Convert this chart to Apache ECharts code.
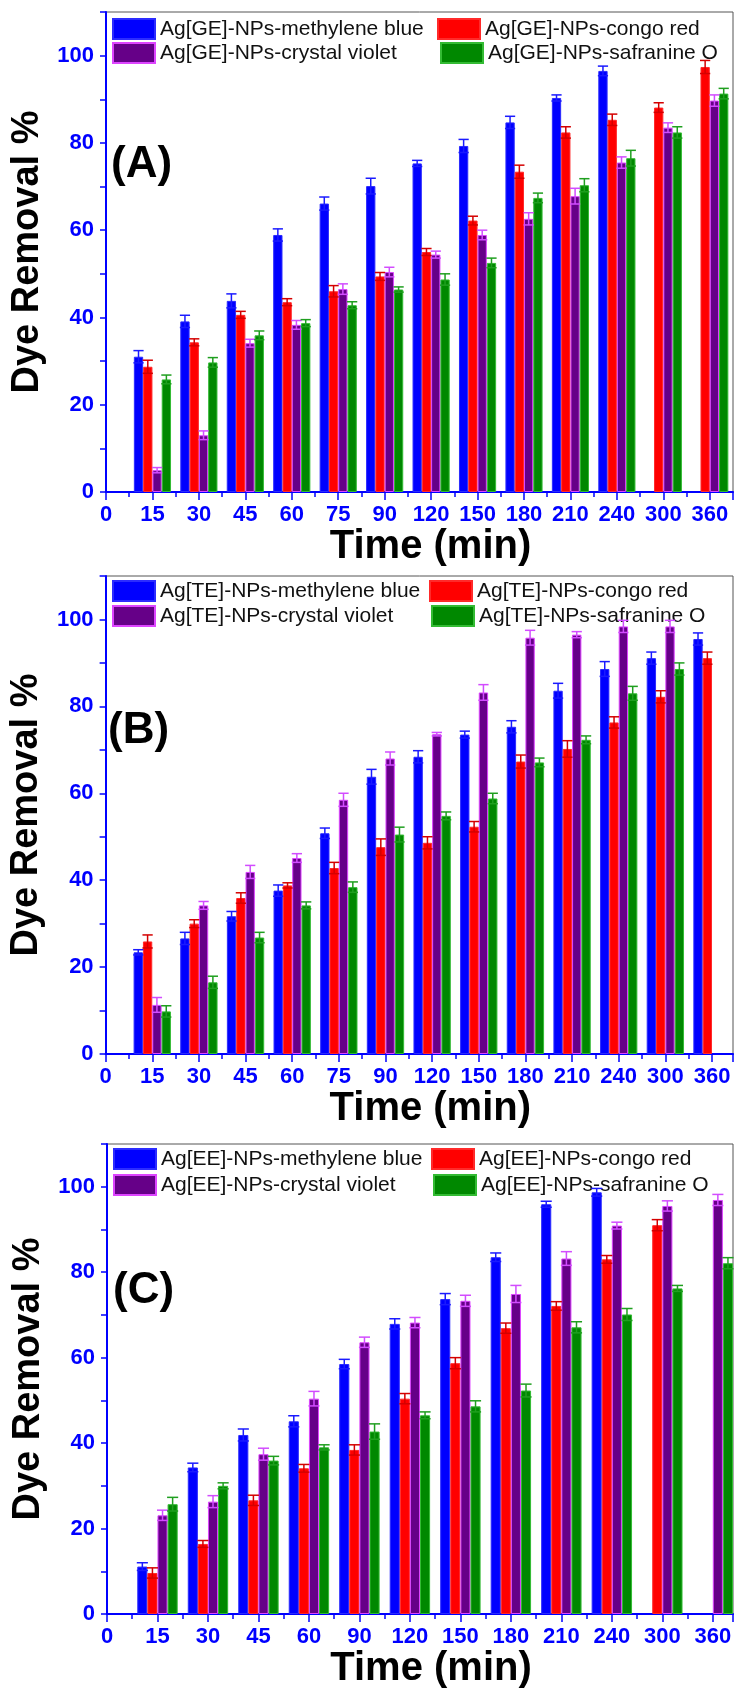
<!DOCTYPE html>
<html><head><meta charset="utf-8">
<script src="https://cdn.jsdelivr.net/npm/echarts@6/dist/echarts.min.js"></script>
<style>html,body{margin:0;padding:0;background:#fff;}#c{width:736px;height:1690px;}</style>
</head><body><div id="c"></div>
<script>
// ---- tick labels ----
const timeLabelsAB = ['0','15','30','45','60','75','90','120','150','180','210','240','300','360'];
const timeLabelsC  = ['0','15','30','45','60','90','120','150','180','210','240','300','360'];
const dyeNames = ['methylene blue','congo red','crystal violet','safranine O'];

// ---- Panel (A) Ag[GE]-NPs ----
const geMB    = [31.0, 39.1, 43.8, 58.9, 66.1, 70.1, 75.3, 79.3, 84.7, 90.3, 96.5, null, null];
const geMBErr = [1.4, 1.4, 1.6, 1.4, 1.5, 1.8, 0.7, 1.5, 1.4, 0.7, 1.1, null, null];
const geCR    = [28.7, 34.3, 40.6, 43.5, 46.0, 49.4, 55.0, 62.2, 73.4, 82.4, 85.3, 88.1, 97.4];
const geCRErr = [1.5, 0.8, 0.8, 0.8, 1.3, 0.9, 0.8, 1.0, 1.5, 1.3, 1.3, 1.1, 1.5];
const geCV    = [5.0, 13.0, 34.1, 38.3, 46.5, 50.4, 54.4, 58.9, 62.6, 67.8, 75.5, 83.5, 89.7];
const geCVErr = [0.6, 1.0, 0.9, 1.0, 1.2, 1.1, 0.8, 1.1, 1.4, 1.8, 1.3, 1.1, 1.3];
const geSO    = [25.8, 29.7, 35.9, 38.7, 42.8, 46.4, 48.7, 52.5, 67.4, 70.3, 76.5, 82.4, 91.3];
const geSOErr = [1.0, 1.1, 1.0, 0.8, 0.8, 0.6, 1.3, 1.1, 1.1, 1.5, 1.8, 1.3, 1.2];

// ---- Panel (B) Ag[TE]-NPs ----
const teMB    = [23.4, 26.6, 31.7, 37.6, 50.8, 63.8, 68.4, 73.5, 75.3, 83.6, 88.6, 91.1, 95.5];
const teMBErr = [0.6, 1.4, 1.1, 1.3, 1.2, 1.7, 1.4, 0.8, 1.4, 1.7, 1.7, 1.4, 1.4];
const teCR    = [25.9, 30.0, 35.9, 38.8, 42.8, 47.6, 48.6, 52.3, 67.3, 70.2, 76.3, 82.2, 91.1];
const teCRErr = [1.5, 0.9, 1.2, 0.6, 1.3, 1.9, 1.4, 1.2, 1.5, 1.9, 1.3, 1.4, 1.4];
const teCV    = [11.3, 34.2, 41.9, 45.1, 58.5, 68.0, 73.6, 83.2, 95.8, 96.5, 98.4, 98.4, null];
const teCVErr = [1.7, 0.9, 1.5, 1.0, 1.5, 1.5, 0.4, 1.8, 1.7, 0.7, 1.4, 1.4, null];
const teSO    = [9.8, 16.5, 26.8, 34.2, 38.4, 50.5, 54.8, 58.8, 67.1, 72.3, 83.0, 88.6, null];
const teSOErr = [1.3, 1.4, 1.2, 0.8, 1.2, 1.7, 0.9, 1.2, 1.0, 0.9, 1.6, 1.4, null];

// ---- Panel (C) Ag[EE]-NPs ----
const eeMB    = [11.1, 34.3, 41.9, 45.1, 58.5, 67.9, 73.7, 83.5, 95.9, 98.7, null, null];
const eeMBErr = [0.9, 1.0, 1.4, 1.3, 1.1, 1.2, 1.3, 1.0, 0.7, 0.9, null, null];
const eeCR    = [9.6, 16.4, 26.6, 34.1, 38.4, 50.4, 58.7, 66.9, 72.1, 83.0, 91.0, null];
const eeCRErr = [1.2, 0.8, 1.2, 0.9, 1.2, 1.2, 1.3, 1.2, 1.0, 0.9, 1.3, null];
const eeCV    = [23.1, 26.3, 37.4, 50.4, 63.6, 68.2, 73.3, 74.9, 83.2, 90.9, 95.5, 96.9];
const eeCVErr = [1.2, 1.4, 1.4, 1.7, 1.2, 1.2, 1.3, 2.0, 1.6, 0.8, 1.2, 1.3];
const eeSO    = [25.7, 30.0, 35.9, 39.0, 42.7, 46.5, 48.6, 52.3, 67.1, 70.1, 76.2, 82.1];
const eeSOErr = [1.6, 0.7, 1.0, 0.6, 1.8, 0.8, 1.3, 1.5, 1.3, 1.4, 0.7, 1.3];

// ---- styles ----
const fills   = ['#0000ff', '#ff0000', '#660088', '#008800'];
const borders = ['#2b2bff', '#ff2a2a', '#dd44ff', '#33bb33'];
const errCols = ['#1a1aff', '#d40000', '#d24cff', '#1f9f1f'];
const AXIS_BLUE = '#0000ff';
const FONT = 'Liberation Sans, Arial, sans-serif';

const panels = [
  { tag:'GE', letter:'(A)', labels: timeLabelsAB, vals:[geMB, geCR, geCV, geSO], errs:[geMBErr, geCRErr, geCVErr, geSOErr],
    grid:{left:106, right:1, top:12, height:480}, xMax:13.5, letterPos:[111,143],
    legTop:[18,42], legLeft:[[112,437],[112,440]] },
  { tag:'TE', letter:'(B)', labels: timeLabelsAB, vals:[teMB, teCR, teCV, teSO], errs:[teMBErr, teCRErr, teCVErr, teSOErr],
    grid:{left:104, right:1, top:576, height:478}, xMax:13.45, letterPos:[108,709],
    legTop:[580,605], legLeft:[[112,429],[112,431]] },
  { tag:'EE', letter:'(C)', labels: timeLabelsC, vals:[eeMB, eeCR, eeCV, eeSO], errs:[eeMBErr, eeCRErr, eeCVErr, eeSOErr],
    grid:{left:107, right:1, top:1144, height:470}, xMax:12.4, letterPos:[113,1269],
    legTop:[1148,1174], legLeft:[[113,431],[113,433]] }
];

const grids = [], xAxes = [], yAxes = [], series = [], legends = [], titles = [];

panels.forEach((p, pi) => {
  grids.push(Object.assign({ show:true, borderColor:'#555', borderWidth:1, backgroundColor:'transparent' }, p.grid));
  const labels = p.labels;
  xAxes.push({
    gridIndex: pi, type:'value', min:0, max:p.xMax, interval:1,
    axisLine:{ show:true, onZero:false, lineStyle:{ color:AXIS_BLUE, width:2 } },
    axisTick:{ show:true, length:8, lineStyle:{ color:AXIS_BLUE, width:1.5 } },
    minorTick:{ show:true, splitNumber:2, length:5, lineStyle:{ color:AXIS_BLUE, width:1.5 } },
    splitLine:{ show:false }, minorSplitLine:{ show:false },
    axisLabel:{ color:AXIS_BLUE, fontWeight:'bold', fontSize:22, fontFamily:FONT, margin:12,
      formatter: v => (Number.isInteger(v) && labels[v] !== undefined) ? labels[v] : '' },
    name:'Time (min)', nameLocation:'middle', nameGap:32,
    nameTextStyle:{ color:'#000', fontWeight:'bold', fontSize:40, fontFamily:FONT, padding:[0,0,0,22] }
  });
  yAxes.push({
    gridIndex: pi, type:'value', min:0, max:110, interval:10,
    axisLine:{ show:true, onZero:false, lineStyle:{ color:AXIS_BLUE, width:2 } },
    axisTick:{ show:true, length:6, lineStyle:{ color:AXIS_BLUE, width:1.5 } },
    splitLine:{ show:false },
    axisLabel:{ color:AXIS_BLUE, fontWeight:'bold', fontSize:22, fontFamily:FONT, margin:12,
      formatter: v => (v % 20 === 0 && v <= 100) ? String(v) : '' },
    name:'Dye Removal %', nameLocation:'middle', nameGap:41,
    nameTextStyle:{ color:'#000', fontWeight:'bold', fontSize:38, fontFamily:FONT }
  });
  titles.push({ text:p.letter, left:p.letterPos[0], top:p.letterPos[1], padding:0,
    textStyle:{ fontSize:44, fontWeight:'bold', color:'#000', fontFamily:FONT } });

  p.vals.forEach((arr, i) => {
    const name = 'Ag[' + p.tag + ']-NPs-' + dyeNames[i];
    const barData = [];
    const errData = [];
    arr.forEach((v, k) => {
      if (v !== null && v !== undefined) {
        barData.push([k + 1, v]);
        errData.push([k + 1, v, p.errs[i][k]]);
      }
    });
    series.push({
      type:'bar', name, xAxisIndex:pi, yAxisIndex:pi, data:barData,
      barGap:'0%', barCategoryGap:'20%',
      itemStyle:{ color:fills[i], borderColor:borders[i], borderWidth:1 },
      emphasis:{ disabled:true }, animation:false
    });
    const col = errCols[i];
    const idx = i;
    series.push({
      type:'custom', name:'err-' + name, xAxisIndex:pi, yAxisIndex:pi, data:errData, z:5, silent:true, animation:false,
      renderItem: (params, api) => {
        const x = api.value(0), y = api.value(1), e = api.value(2);
        const c = api.coord([x, y]);
        const band = api.size([1, 0])[0];
        const bw = band * 0.2;
        const cx = c[0] + (idx - 1.5) * bw;
        const top = api.coord([x, y + e])[1];
        const bot = api.coord([x, y - e])[1];
        const hw = bw * 0.55;
        const st = { stroke: col, lineWidth: 1.5 };
        return { type:'group', children:[
          { type:'line', shape:{ x1:cx, y1:top, x2:cx, y2:bot }, style:st },
          { type:'line', shape:{ x1:cx - hw, y1:top, x2:cx + hw, y2:top }, style:st },
          { type:'line', shape:{ x1:cx - hw, y1:bot, x2:cx + hw, y2:bot }, style:st }
        ]};
      }
    });
    const row = (i === 0 || i === 1) ? 0 : 1;
    const colIdx = (i === 0 || i === 2) ? 0 : 1;
    legends.push({
      left: p.legLeft[row][colIdx], top: p.legTop[row], padding:0, itemWidth:42, itemHeight:20, itemGap:0,
      icon:'rect', selectedMode:false, data:[name],
      textStyle:{ fontSize:21, color:'#111', fontFamily:FONT }
    });
  });
});

const chart = echarts.init(document.getElementById('c'), null, { renderer:'canvas' });
chart.setOption({
  backgroundColor:'#fff',
  animation:false,
  title: titles,
  legend: legends,
  grid: grids,
  xAxis: xAxes,
  yAxis: yAxes,
  series
});
</script></body></html>
